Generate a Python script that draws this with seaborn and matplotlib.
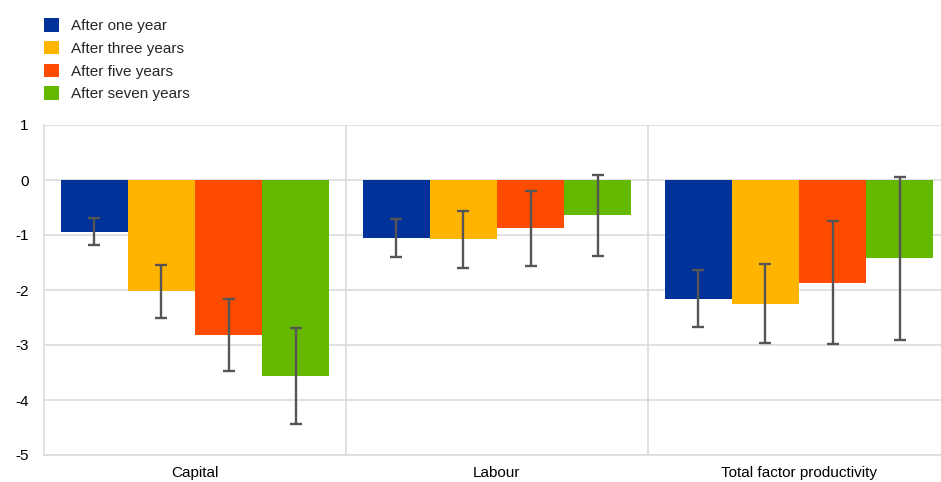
import numpy as np
import pandas as pd
import seaborn as sns
import matplotlib
matplotlib.use("Agg")
import matplotlib.pyplot as plt
from matplotlib.patches import Patch

categories = ["Capital", "Labour", "Total factor productivity"]
horizons = ["After one year", "After three years", "After five years", "After seven years"]
colors = ["#003299", "#ffb400", "#ff4b00", "#65b800"]

# point estimates, one list per horizon (capital, labour, tfp)
one_year = [-0.94, -1.06, -2.16]
three_years = [-2.02, -1.08, -2.25]
five_years = [-2.81, -0.88, -1.87]
seven_years = [-3.56, -0.64, -1.42]

# confidence band bounds
lower_one = [-1.18, -1.40, -2.68]
upper_one = [-0.69, -0.70, -1.64]
lower_three = [-2.51, -1.60, -2.97]
upper_three = [-1.55, -0.57, -1.53]
lower_five = [-3.48, -1.57, -2.99]
upper_five = [-2.16, -0.20, -0.75]
lower_seven = [-4.44, -1.38, -2.90]
upper_seven = [-2.69, 0.09, 0.05]

values = [one_year, three_years, five_years, seven_years]
lowers = [lower_one, lower_three, lower_five, lower_seven]
uppers = [upper_one, upper_three, upper_five, upper_seven]

rows = []
for h, vals, lo, up in zip(horizons, values, lowers, uppers):
    for c, v, l, u in zip(categories, vals, lo, up):
        rows.append({"category": c, "horizon": h, "value": v, "low": l, "high": u})
df = pd.DataFrame(rows)

sns.set_style("white")
plt.rcParams["font.family"] = ["Liberation Sans", "DejaVu Sans"]
plt.rcParams["axes.unicode_minus"] = False

fig = plt.figure(figsize=(9.41, 4.82), dpi=100)
ax = fig.add_axes([44 / 941, 27 / 482, 906 / 941, 330 / 482])

sns.barplot(data=df, x="category", y="value", hue="horizon", order=categories,
            hue_order=horizons, palette=colors, width=0.89, saturation=1,
            errorbar=None, legend=False, ax=ax, linewidth=0)

# asymmetric error bars placed at the centre of each bar
for i, h in enumerate(horizons):
    bars = ax.containers[i]
    sub = df[df["horizon"] == h].set_index("category").loc[categories]
    xs = [b.get_x() + b.get_width() / 2 for b in bars]
    ax.errorbar(xs, sub["value"],
                yerr=[sub["value"] - sub["low"], sub["high"] - sub["value"]],
                fmt="none", ecolor="#555555", elinewidth=1.7, capsize=4,
                capthick=1.7, zorder=5)

ax.set_ylim(-5, 1)
ax.set_xlim(-0.5, 2.5)
ax.set_yticks(np.arange(-5, 2, 1))
ax.yaxis.grid(True, color="#dcdcdc", linewidth=1.2)
ax.set_axisbelow(True)
for xv in [0.5, 1.5]:
    ax.axvline(xv, color="#dcdcdc", linewidth=1.2, zorder=0)
for s in ["top", "right"]:
    ax.spines[s].set_visible(False)
for s in ["left", "bottom"]:
    ax.spines[s].set_color("#dcdcdc")
    ax.spines[s].set_linewidth(1.2)
ax.tick_params(axis="both", length=0, labelsize=11, colors="#000000")
ax.tick_params(axis="y", pad=11)
ax.tick_params(axis="x", pad=8)
ax.set_xlabel("")
ax.set_ylabel("")

handles = [Patch(facecolor=c, edgecolor="none") for c in colors]
fig.legend(handles, horizons, loc="upper left", bbox_to_anchor=(38 / 941, 1 - 12 / 482),
           frameon=False, fontsize=11, handlelength=1.0, handleheight=1.0,
           handletextpad=0.75, labelspacing=0.5, borderaxespad=0)

fig.savefig("out.png", dpi=100)
